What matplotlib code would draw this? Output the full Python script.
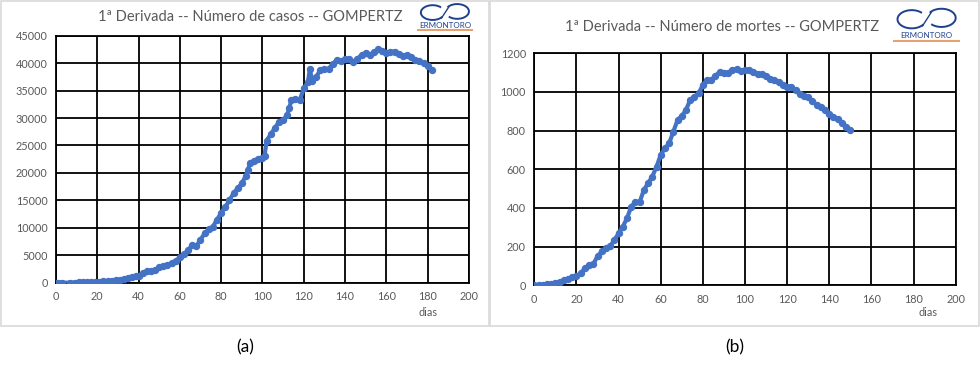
import matplotlib
matplotlib.use("Agg")
import matplotlib.pyplot as plt
from matplotlib.patches import Arc, Rectangle
from matplotlib.lines import Line2D

# dados (a) - casos
dias_casos = [0, 1, 3, 7, 9, 11, 13, 15, 17, 19, 21, 23, 25, 27, 29, 31, 33, 35, 37, 39,
              40, 42, 44, 46, 48, 50, 52, 54, 56, 58, 60, 62, 64, 66, 68, 70, 72, 74, 76, 78,
              80, 82, 84, 86, 88, 90, 92, 93, 94, 96, 98, 100, 101, 102, 104, 106, 108, 110,
              112, 113, 114, 116, 118, 120, 122, 123, 124, 126, 128, 130, 132, 134, 136, 138,
              140, 142, 144, 146, 148, 150, 152, 154, 156, 158, 160, 162, 164, 166, 168, 170,
              172, 174, 176, 178, 180, 182]
casos = [0, 0, 0, 20, 30, 40, 50, 70, 90, 120, 170, 220, 290, 360, 440, 540, 660, 800, 950, 1150,
         1300, 1700, 2100, 2100, 2300, 2800, 3100, 3200, 3600, 4000, 4600, 5200, 5900, 6900, 6700,
         7800, 9000, 9700, 10200, 11500, 12700, 13800, 15000, 16300, 17200, 18100, 19500, 20600,
         21800, 22200, 22600, 22800, 23000, 25900, 27000, 28200, 29300, 29700, 30500, 31900, 33200,
         33500, 33200, 35400, 36500, 39000, 36700, 37500, 38700, 38900, 38900, 39900, 40500, 40300,
         40800, 40700, 40200, 40800, 41500, 41900, 41400, 42000, 42500, 42200, 41800, 42100, 42100,
         41700, 41300, 41500, 41200, 40500, 40400, 40000, 39400, 38800]

# dados (b) - mortes
dias_mortes = list(range(0, 152, 2))
mortes = [0, 2, 3, 5, 9, 14, 19, 26, 34, 41, 48, 62, 88, 105, 110, 150, 175, 192, 203, 234,
          269, 303, 347, 407, 433, 430, 493, 528, 562, 614, 674, 709, 734, 795, 855, 876, 907,
          959, 976, 993, 1036, 1062, 1062, 1083, 1105, 1097, 1097, 1114, 1119, 1109, 1114, 1114,
          1105, 1093, 1093, 1083, 1066, 1062, 1053, 1036, 1028, 1024, 1010, 990, 979, 972, 953,
          933, 924, 907, 886, 872, 862, 841, 821, 803]

azul = "#4472C4"
cinza = "#595959"
plt.rcParams['font.family'] = ['Lato', 'DejaVu Sans']

fig = plt.figure(figsize=(9.8, 3.68), dpi=100)
fig.patch.set_facecolor("white")

# molduras dos paineis
for x0 in [0.001, 0.5005]:
    fig.patches.append(Rectangle((x0, 0.114), 0.498, 0.884, transform=fig.transFigure,
                                 fill=False, edgecolor="#D9D9D9", linewidth=1.2))


def logo(rect):
    ax = fig.add_axes(rect)
    ax.set_xlim(0, 1)
    ax.set_ylim(0, 1)
    ax.axis("off")
    ax.add_patch(Arc((0.28, 0.66), 0.42, 0.52, theta1=50, theta2=320, color="#1F3F8F", lw=1.4))
    ax.add_patch(Arc((0.72, 0.70), 0.42, 0.52, theta1=230, theta2=140, color="#1F3F8F", lw=1.4))
    ax.plot([0.44, 0.57], [0.47, 0.86], color="#1F3F8F", lw=1.0)
    ax.text(0.5, 0.2, "ERMONTORO", ha="center", va="center", fontsize=5.8, color="#1F3F8F")
    ax.add_line(Line2D([0.0, 1.0], [0.03, 0.03], color="#E8A070", lw=1.5))


def painel(rect, x, y, ymax, ystep):
    ax = fig.add_axes(rect)
    ax.plot(x, y, color=azul, lw=3.0, marker="o", markersize=4.3, zorder=3)
    ax.set_xlim(0, 200)
    ax.set_ylim(0, ymax)
    ax.set_xticks(range(0, 201, 20))
    ax.set_yticks(range(0, ymax + 1, ystep))
    ax.grid(True, color="black", lw=1.3)
    for s in ax.spines.values():
        s.set_color("black")
        s.set_linewidth(1.3)
    ax.tick_params(length=0, labelsize=7.8, labelcolor=cinza, pad=6)
    return ax


painel([0.0571, 0.2318, 0.4214, 0.6712], dias_casos, casos, 45000, 5000)
painel([0.5452, 0.2247, 0.4300, 0.6305], dias_mortes, mortes, 1200, 200)

fig.text(0.255, 0.954, "1ª Derivada -- Número de casos -- GOMPERTZ", ha="center", va="center",
         fontsize=10.5, color=cinza)
fig.text(0.737, 0.927, "1ª Derivada -- Número de mortes -- GOMPERTZ", ha="center", va="center",
         fontsize=10.5, color=cinza)
fig.text(0.4367, 0.152, "dias", ha="center", va="center", fontsize=7.8, color=cinza)
fig.text(0.947, 0.1495, "dias", ha="center", va="center", fontsize=7.8, color=cinza)
fig.text(0.25, 0.057, "(a)", ha="center", va="center", fontsize=12.5, color="black")
fig.text(0.75, 0.057, "(b)", ha="center", va="center", fontsize=12.5, color="black")

logo([0.4255, 0.915, 0.057, 0.077])
logo([0.911, 0.885, 0.069, 0.095])

fig.savefig("out.png", dpi=100)
